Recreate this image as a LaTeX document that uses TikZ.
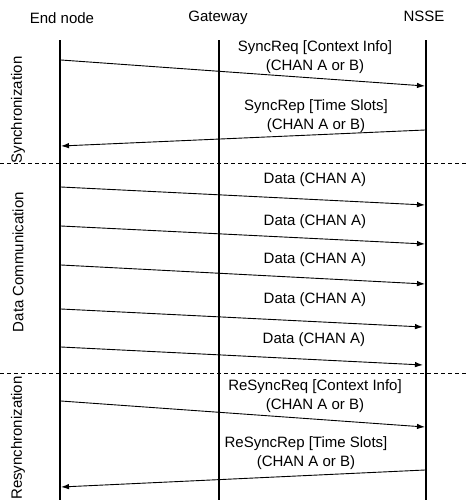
\documentclass[tikz,border=0pt]{standalone}
\usepackage{fontspec}
\setmainfont{Liberation Sans}
\usetikzlibrary{arrows.meta}
\begin{document}
\begin{tikzpicture}[x=1pt,y=-1pt,
  every node/.style={font=\fontsize{15}{19}\selectfont, inner sep=0pt, align=center},
  lifeline/.style={line width=1.6pt},
  msg/.style={line width=0.9pt, -{Latex[length=8pt,width=5.5pt]}},
  sep/.style={line width=0.6pt, dash pattern=on 4pt off 3pt},
  phase/.style={rotate=90}]
\useasboundingbox (0,0) rectangle (468,504);
% headers
\node (en) at (62,18) {End node};
\node (gw) at (218,18) {Gateway};
\node (ns) at (424,16) {NSSE};
% lifelines
\coordinate (e0) at (60,40); \coordinate (e1) at (60,500);
\coordinate (g0) at (219,40); \coordinate (g1) at (219,500);
\coordinate (n0) at (426,40); \coordinate (n1) at (426,500);
\draw[lifeline] (e0) -- (e1);
\draw[lifeline] (g0) -- (g1);
\draw[lifeline] (n0) -- (n1);
% separators
\coordinate (d1l) at (0,163); \coordinate (d1r) at (468,163);
\coordinate (d2l) at (0,373); \coordinate (d2r) at (468,373);
\draw[sep] (d1l) -- (d1r);
\draw[sep] (d2l) -- (d2r);
% phase labels
\node[phase] (p1) at (18,110) {Synchronization};
\node[phase] (p2) at (18,262) {Data Communication};
\node[phase] (p3) at (18,438) {Resynchronization};
% synchronization
\coordinate (a1s) at (61,60); \coordinate (a1e) at (425,86);
\draw[msg] (a1s) -- (a1e);
\node (l1) at (315,57) {SyncReq [Context Info]\\(CHAN A or B)};
\coordinate (a2s) at (425,130); \coordinate (a2e) at (61,146);
\draw[msg] (a2s) -- (a2e);
\node (l2) at (316,116) {SyncRep [Time Slots]\\(CHAN A or B)};
% data
\coordinate (d1s) at (61,187); \coordinate (d1e) at (425,205);
\draw[msg] (d1s) -- (d1e);
\node (ld1) at (315,180) {Data (CHAN A)};
\coordinate (d2s) at (61,226); \coordinate (d2e) at (425,244);
\draw[msg] (d2s) -- (d2e);
\node (ld2) at (315,222) {Data (CHAN A)};
\coordinate (d3s) at (61,265); \coordinate (d3e) at (425,284);
\draw[msg] (d3s) -- (d3e);
\node (ld3) at (315,260) {Data (CHAN A)};
\coordinate (d4s) at (61,309); \coordinate (d4e) at (423,327);
\draw[msg] (d4s) -- (d4e);
\node (ld4) at (315,300) {Data (CHAN A)};
\coordinate (d5s) at (61,347); \coordinate (d5e) at (423,365);
\draw[msg] (d5s) -- (d5e);
\node (ld5) at (314,340) {Data (CHAN A)};
% resync
\coordinate (r1s) at (61,401); \coordinate (r1e) at (425,427);
\draw[msg] (r1s) -- (r1e);
\node (lr1) at (315,396) {ReSyncReq [Context Info]\\(CHAN A or B)};
\coordinate (r2s) at (425,470); \coordinate (r2e) at (61,487);
\draw[msg] (r2s) -- (r2e);
\node (lr2) at (306,453) {ReSyncRep [Time Slots]\\(CHAN A or B)};
\end{tikzpicture}
\end{document}
